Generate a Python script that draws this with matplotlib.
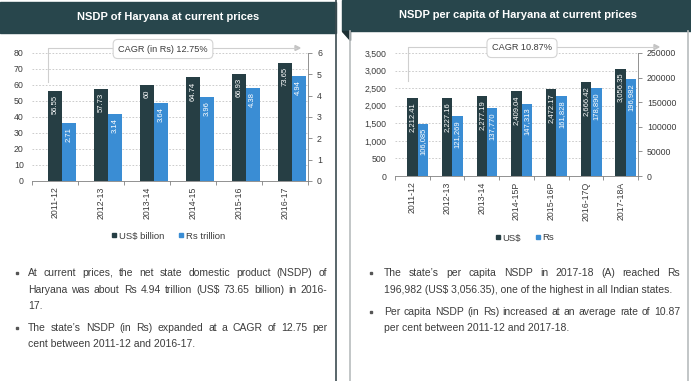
import numpy as np
import matplotlib
matplotlib.use('Agg')
import matplotlib.pyplot as plt
from matplotlib.patches import Rectangle, Polygon
from matplotlib.lines import Line2D
from matplotlib.ticker import FuncFormatter

plt.rcParams['font.family'] = ['Liberation Sans', 'DejaVu Sans']

# data
years_l = ['2011-12', '2012-13', '2013-14', '2014-15', '2015-16', '2016-17']
usd_bn = [56.55, 57.73, 60, 64.74, 66.93, 73.65]
rs_tn = [2.71, 3.14, 3.64, 3.96, 4.38, 4.94]
usd_lbl = ['56.55', '57.73', '60', '64.74', '66.93', '73.65']
rs_lbl = ['2.71', '3.14', '3.64', '3.96', '4.38', '4.94']

years_r = ['2011-12', '2012-13', '2013-14', '2014-15P', '2015-16P', '2016-17Q', '2017-18A']
usd_pc = [2212.41, 2227.16, 2277.19, 2409.04, 2472.17, 2666.42, 3056.35]
rs_pc = [106085, 121269, 137770, 147313, 161828, 178890, 196982]

cagr_l = 'CAGR (in Rs) 12.75%'
cagr_r = 'CAGR 10.87%'

text_l = [
    ['At current prices, the net state domestic product (NSDP) of',
     'Haryana was about Rs 4.94 trillion (US$ 73.65 billion) in 2016-',
     '17.'],
    ['The state\u2019s NSDP (in Rs) expanded at a CAGR of 12.75 per',
     'cent between 2011-12 and 2016-17.'],
]
text_r = [
    ['The state\u2019s per capita NSDP in 2017-18 (A) reached Rs',
     '196,982 (US$ 3,056.35), one of the highest in all Indian states.'],
    ['Per capita NSDP (in Rs) increased at an average rate of 10.87',
     'per cent between 2011-12 and 2017-18.'],
]

DARK = '#263e44'
BLUE = '#3a8dd4'
HEAD = '#28464c'
GRID = '#c4c4c4'
TXT = '#3c3c3c'

W, H = 691, 381
fig = plt.figure(figsize=(W / 100, H / 100), dpi=100)


def rect(x, y, w, h):
    return [x / W, 1 - (y + h) / H, w / W, h / H]


def chart(r, cats, v1, v2, l1, l2, max1, step1, max2, step2, f1, f2):
    ax = fig.add_axes(r)
    ax2 = ax.twinx()
    x = np.arange(len(cats))
    w = 0.3
    ax.bar(x, v1, w, color=DARK, zorder=3)
    ax2.bar(x + w, v2, w, color=BLUE, zorder=3)
    for xi, v, s in zip(x, v1, l1):
        ax.annotate(s, (xi, v), xytext=(0, -3), textcoords='offset points',
                    ha='center', va='top', rotation=90, color='white', fontsize=5.5)
    for xi, v, s in zip(x, v2, l2):
        ax2.annotate(s, (xi + w, v), xytext=(0, -3), textcoords='offset points',
                     ha='center', va='top', rotation=90, color='white', fontsize=5.5)
    ax.set_xlim(-0.5, len(cats) - 0.5)
    ax.set_ylim(0, max1)
    ax2.set_ylim(0, max2)
    ax.set_yticks(np.arange(0, max1 + step1 / 2, step1))
    ax2.set_yticks(np.arange(0, max2 + step2 / 2, step2))
    ax.yaxis.set_major_formatter(FuncFormatter(f1))
    ax2.yaxis.set_major_formatter(FuncFormatter(f2))
    ax.set_xticks(x)
    ax.set_xticklabels(cats, rotation=90)
    ax.set_xticks(np.arange(-0.5, len(cats)), minor=True)
    ax.tick_params(axis='x', which='major', length=0, pad=4, labelsize=6.3, labelcolor=TXT)
    ax.tick_params(axis='x', which='minor', length=3, color='#808080', width=0.6)
    ax.tick_params(axis='y', length=0, labelsize=6.3, labelcolor=TXT, pad=6)
    ax2.tick_params(axis='y', length=3, labelsize=6.3, labelcolor=TXT, color='#808080', width=0.6)
    ax.yaxis.grid(True, color=GRID, linestyle=(0, (2, 2)), linewidth=0.6)
    ax.set_axisbelow(True)
    for s in ['left', 'top', 'right']:
        ax.spines[s].set_visible(False)
        if s != 'right':
            ax2.spines[s].set_visible(False)
    ax.spines['bottom'].set_color('#808080')
    ax.spines['bottom'].set_linewidth(0.6)
    ax2.spines['bottom'].set_visible(False)
    ax2.spines['right'].set_color('#808080')
    ax2.spines['right'].set_linewidth(0.6)
    ax.patch.set_visible(False)
    ax2.patch.set_visible(False)
    return ax, ax2


chart(rect(32, 53, 276, 128), years_l, usd_bn, rs_tn, usd_lbl, rs_lbl,
      80, 10, 6, 1, lambda v, p: '%d' % v, lambda v, p: '%d' % v)
chart(rect(395, 53, 243, 123), years_r, usd_pc, rs_pc,
      ['{:,.2f}'.format(v) for v in usd_pc], ['{:,}'.format(v) for v in rs_pc],
      3500, 500, 250000, 50000, lambda v, p: '{:,.0f}'.format(v), lambda v, p: '%d' % v)

# legends
def legend(labels, cx, cy):
    hs = [Line2D([], [], marker='s', ls='', color=c, markersize=3.5, label=l)
          for c, l in zip([DARK, BLUE], labels)]
    fig.legend(handles=hs, loc='center', bbox_to_anchor=(cx / W, 1 - cy / H), ncol=2,
               frameon=False, fontsize=6.8, handletextpad=0.1, columnspacing=1.5,
               handlelength=0.7, labelcolor=TXT)

legend(['US$ billion', 'Rs trillion'], 168, 236)
legend(['US$', 'Rs'], 524, 238)

# overlay in pixel coordinates
ov = fig.add_axes([0, 0, 1, 1])
ov.set_xlim(0, W)
ov.set_ylim(H, 0)
ov.axis('off')
ov.patch.set_visible(False)

# panels and title bars
ov.add_patch(Rectangle((0, 2), 336, 31, color=HEAD))
ov.add_patch(Rectangle((342, 0), W - 342, 31, color=HEAD))
ov.add_patch(Polygon([(342, 31), (350, 31), (350, 40)], color='#1c2f33'))
ov.plot([336.5, 336.5], [0, H], color='#3c4c50', lw=1.2)
ov.plot([350.5, 350.5], [31, H], color='#b8bcbe', lw=1.2)
ov.plot([688, 688], [31, H], color='#b8bcbe', lw=1.2)
ov.text(168, 17.5, 'NSDP of Haryana at current prices', color='white', fontsize=8,
        fontweight='bold', ha='center', va='center')
ov.text(518, 15, 'NSDP per capita of Haryana at current prices', color='white', fontsize=8,
        fontweight='bold', ha='center', va='center')

# CAGR brackets
def cagr(x0, y0, x1, yt, cx, s):
    ov.plot([x0, x0, x1 - 4], [y0, yt, yt], color='#cfcfcf', lw=0.8)
    ov.add_patch(Polygon([(x1 - 5, yt - 2.5), (x1, yt), (x1 - 5, yt + 2.5)], color='#c4c4c4'))
    ov.text(cx, yt + 1, s, ha='center', va='center', fontsize=6.6, color=TXT, zorder=5,
            bbox=dict(boxstyle='round,pad=0.55,rounding_size=0.5', fc='white',
                      ec='#d4d4d4', lw=0.8))

cagr(48, 82, 300, 48, 163, cagr_l)
cagr(408, 81, 659, 47, 522, cagr_r)

# bullet text, justified
renderer = fig.canvas.get_renderer()
FS = 7.5


def width(s):
    t = ov.text(0, 0, s, fontsize=FS)
    wd = t.get_window_extent(renderer).width
    t.remove()
    return wd


def paragraphs(paras, bx, x0, x1, ys):
    i = 0
    for para in paras:
        for j, line in enumerate(para):
            y = ys[i]
            i += 1
            if j == 0:
                ov.plot([bx], [y], marker='s', ms=2, color='#555555')
            words = line.split(' ')
            if j == len(para) - 1 or len(words) < 2:
                ov.text(x0, y, line, fontsize=FS, color=TXT, va='center')
                continue
            ws = [width(wd) for wd in words]
            gap = (x1 - x0 - sum(ws)) / (len(words) - 1)
            xx = x0
            for wd, wdt in zip(words, ws):
                ov.text(xx, y, wd, fontsize=FS, color=TXT, va='center')
                xx += wdt + gap


paragraphs(text_l, 17, 28, 327, [273, 290, 306, 328, 344])
paragraphs(text_r, 371, 384, 680, [273, 290, 312, 328])

fig.savefig('out.png', dpi=100)
